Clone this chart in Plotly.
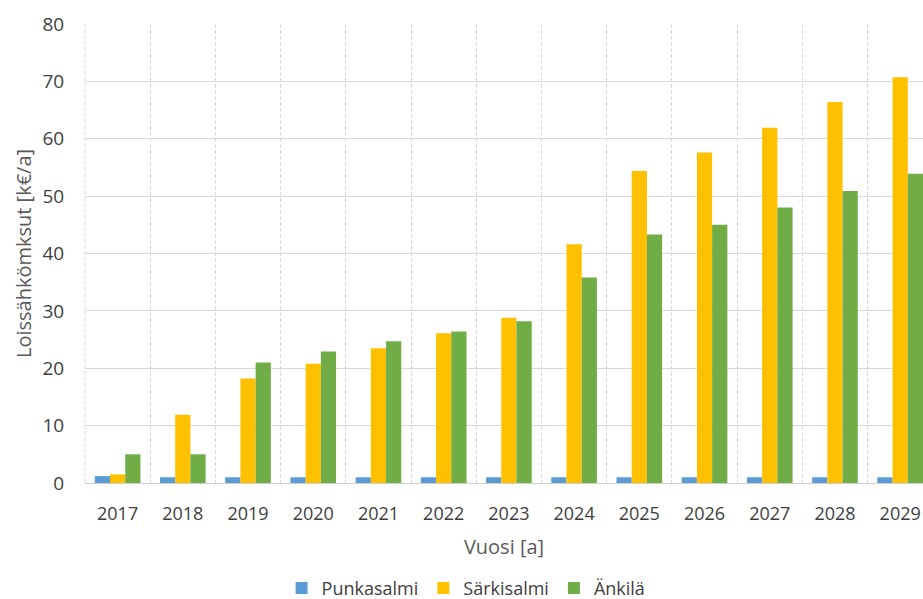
import plotly.graph_objects as go

# Reactive power costs per year for three substations
years = ["2017", "2018", "2019", "2020", "2021", "2022", "2023",
         "2024", "2025", "2026", "2027", "2028", "2029"]
punkasalmi = [1.2, 1.0, 1.0, 1.0, 1.0, 1.0, 1.0, 1.0, 1.0, 1.0, 1.0, 1.0, 1.0]
sarkisalmi = [1.5, 11.9, 18.2, 20.8, 23.5, 26.1, 28.8, 41.6, 54.4, 57.6, 61.9, 66.4, 70.7]
ankila = [5.0, 5.0, 21.0, 22.9, 24.7, 26.4, 28.2, 35.8, 43.3, 45.0, 48.0, 50.9, 53.9]

series = [
    ("Punkasalmi", punkasalmi, "#5B9BD5"),
    ("Särkisalmi", sarkisalmi, "#FFC000"),
    ("Änkilä", ankila, "#70AD47"),
]

font_family = "'Open Sans', sans-serif"
grid_color = "#d9d9d9"

fig = go.Figure()
for name, vals, color in series:
    fig.add_trace(go.Bar(
        x=years, y=vals, name=name,
        marker=dict(color=color, line=dict(width=0)),
    ))

# dashed left border of the plot area, matching the vertical gridlines
fig.add_shape(
    type="line", xref="paper", yref="paper", x0=0, x1=0, y0=0, y1=1,
    line=dict(color=grid_color, width=1, dash="4px,2px"), layer="below",
)

fig.update_layout(
    width=923, height=599,
    margin=dict(l=85, r=0, t=24, b=116, autoexpand=False),
    paper_bgcolor="white", plot_bgcolor="white",
    barmode="group", bargap=0.3, bargroupgap=0,
    font=dict(family=font_family, size=18, color="#404040"),
    showlegend=True,
    legend=dict(
        orientation="h", x=0.505, xanchor="center",
        xref="container", yref="container", y=0.018, yanchor="middle",
        font=dict(size=18, color="#404040"),
        traceorder="normal",
    ),
    xaxis=dict(
        type="category",
        range=[-0.5, 12.35],
        tickson="boundaries",
        showgrid=True, gridcolor=grid_color, griddash="4px,2px", gridwidth=1,
        showline=True, linecolor="#d0d0d0", linewidth=1,
        ticks="", ticklabelstandoff=14,
        tickfont=dict(size=18, color="#404040"),
        title=dict(text="Vuosi [a]", font=dict(size=20, color="#595959"), standoff=16),
    ),
    yaxis=dict(
        range=[0, 80], dtick=10,
        showgrid=True, gridcolor=grid_color, gridwidth=1,
        zeroline=False,
        ticks="outside", ticklen=16, tickcolor="rgba(0,0,0,0)",
        tickfont=dict(size=19, color="#404040"),
        title=dict(text="Loissähkömksut [k€/a]", font=dict(size=20, color="#595959"), standoff=5),
    ),
)

fig.write_html("out.html")
